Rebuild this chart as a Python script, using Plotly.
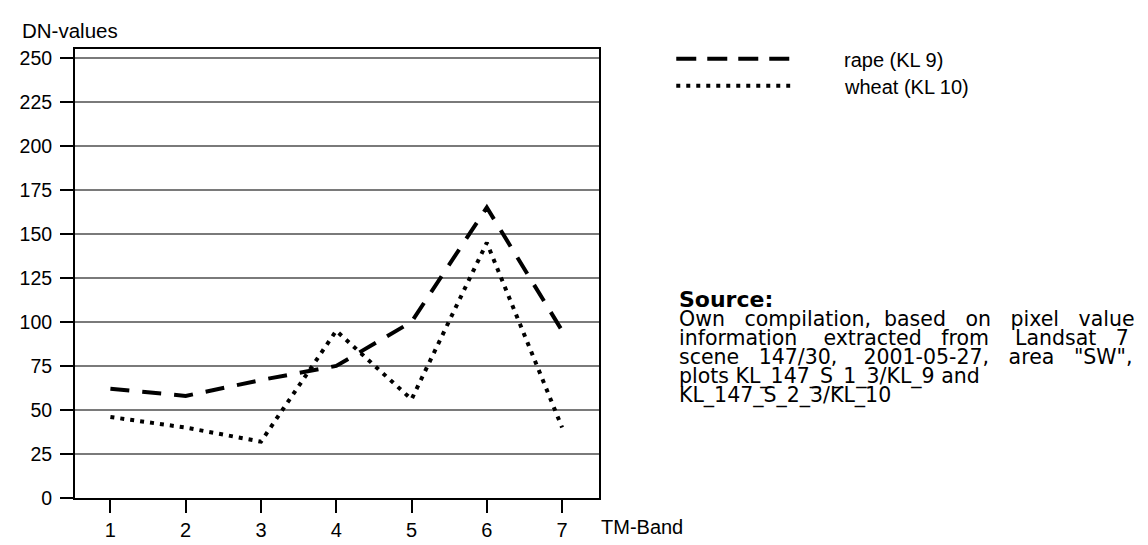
import plotly.graph_objects as go

bands = [1, 2, 3, 4, 5, 6, 7]
rape_kl9 = [62, 58, 67, 75, 100, 165, 95]
wheat_kl10 = [46, 40, 32, 95, 56, 145, 40]
y_ticks = [0, 25, 50, 75, 100, 125, 150, 175, 200, 225, 250]
legend_labels = ["rape (KL 9)", "wheat (KL 10)"]
source_title = "Source:"
source_lines = [
    "Own compilation, based on pixel value",
    "information extracted from Landsat 7",
    "scene 147/30, 2001-05-27, area \"SW\",",
    "plots KL_147_S_1_3/KL_9 and",
    "KL_147_S_2_3/KL_10",
]
justified = [True, True, True, False, False]

W, H = 1148, 545
L, R, T, B = 62, 591, 41, 504
FONT = "Liberation Sans, Arial, sans-serif"
WIDE = "DejaVu Sans, Liberation Sans, sans-serif"
SRC_SIZE = 20.5

# DejaVu Sans advance widths (1/1000 em), used to justify the source block
DW = {" ": 318, '"': 460, ",": 318, "-": 361, "/": 337, ":": 337, "_": 500,
      "A": 684, "K": 656, "L": 557, "O": 787, "S": 635, "W": 989,
      "a": 613, "b": 635, "c": 550, "d": 635, "e": 615, "f": 352, "h": 634,
      "i": 278, "l": 278, "m": 974, "n": 634, "o": 612, "p": 635, "r": 411,
      "s": 521, "t": 392, "u": 634, "v": 592, "w": 818, "x": 592}


def dw(word, size):
    return sum(DW.get(c, 636) for c in word) * size / 1000.0


def justify(line, size, width):
    words = line.split(" ")
    space = DW[" "] * size / 1000.0
    gap = (width - sum(dw(w, size) for w in words)) / (len(words) - 1)
    out, err = words[0], 0.0
    for w in words[1:]:
        want = gap / space + err
        n = max(1, int(round(want)))
        err = want - n
        out += "\u00a0" * n + w
    return out


def px(x):
    return (x - L) / (R - L)


def py(y):
    return (B - y) / (B - T)


fig = go.Figure()
fig.add_trace(go.Scatter(x=bands, y=rape_kl9, mode="lines", name=legend_labels[0],
                         line=dict(color="black", width=4, dash="19px,13px")))
fig.add_trace(go.Scatter(x=bands, y=wheat_kl10, mode="lines", name=legend_labels[1],
                         line=dict(color="black", width=4, dash="4px,6px")))

shapes = []
anns = []
# manual legend
for lab, dash, yy in [(legend_labels[0], "20px,11px", 51),
                      (legend_labels[1], "4px,6px", 79)]:
    shapes.append(dict(type="line", xref="paper", yref="paper",
                       x0=px(669), x1=px(784), y0=py(yy), y1=py(yy),
                       line=dict(color="black", width=4, dash=dash)))
    anns.append(dict(text=lab, xref="paper", yref="paper", x=px(836), y=py(yy + 1),
                     xanchor="left", yanchor="middle", showarrow=False,
                     font=dict(size=20, color="black", family=FONT)))

anns.append(dict(text="DN-values", xref="paper", yref="paper", x=px(6), y=py(22),
                 xanchor="left", yanchor="middle", showarrow=False,
                 font=dict(size=20.5, color="black", family=FONT)))
anns.append(dict(text="TM-Band", xref="paper", yref="paper", x=px(591), y=py(534),
                 xanchor="left", yanchor="middle", showarrow=False,
                 font=dict(size=20, color="black", family=FONT)))
anns.append(dict(text="<b>" + source_title + "</b>", xref="paper", yref="paper",
                 x=px(670), y=py(299), xanchor="left", yanchor="middle",
                 showarrow=False, font=dict(size=22, color="black", family=WIDE)))

X0, X1 = 670.0, 1124.0
for i, line in enumerate(source_lines):
    yc = 319.5 + 19.7 * i
    txt = justify(line, SRC_SIZE, X1 - X0) if justified[i] else line
    anns.append(dict(text=txt, xref="paper", yref="paper", x=px(X0), y=py(yc),
                     xanchor="left", yanchor="middle", showarrow=False,
                     font=dict(size=SRC_SIZE, color="black", family=WIDE)))

fig.update_layout(
    width=W, height=H,
    margin=dict(l=L, r=W - R, t=T, b=H - B, pad=0),
    paper_bgcolor="white", plot_bgcolor="white",
    showlegend=False,
    font=dict(family=FONT, size=19.5, color="black"),
    shapes=shapes, annotations=anns,
    xaxis=dict(range=[0.53, 7.49], tickvals=bands, ticks="outside", ticklen=13,
               tickwidth=2, tickcolor="black", showgrid=False, zeroline=False,
               showline=True, linecolor="black", linewidth=2, mirror=True,
               tickfont=dict(size=20, family=FONT, color="black")),
    yaxis=dict(range=[0, 255], tickvals=y_ticks, ticks="outside", ticklen=13,
               tickwidth=2, tickcolor="black", showgrid=True, gridcolor="#7a7a7a",
               gridwidth=1.5, zeroline=False, showline=True, linecolor="black",
               linewidth=2, mirror=True, ticklabelstandoff=4,
               tickfont=dict(size=19.5, family=FONT, color="black")),
)

fig.write_html("out.html")
